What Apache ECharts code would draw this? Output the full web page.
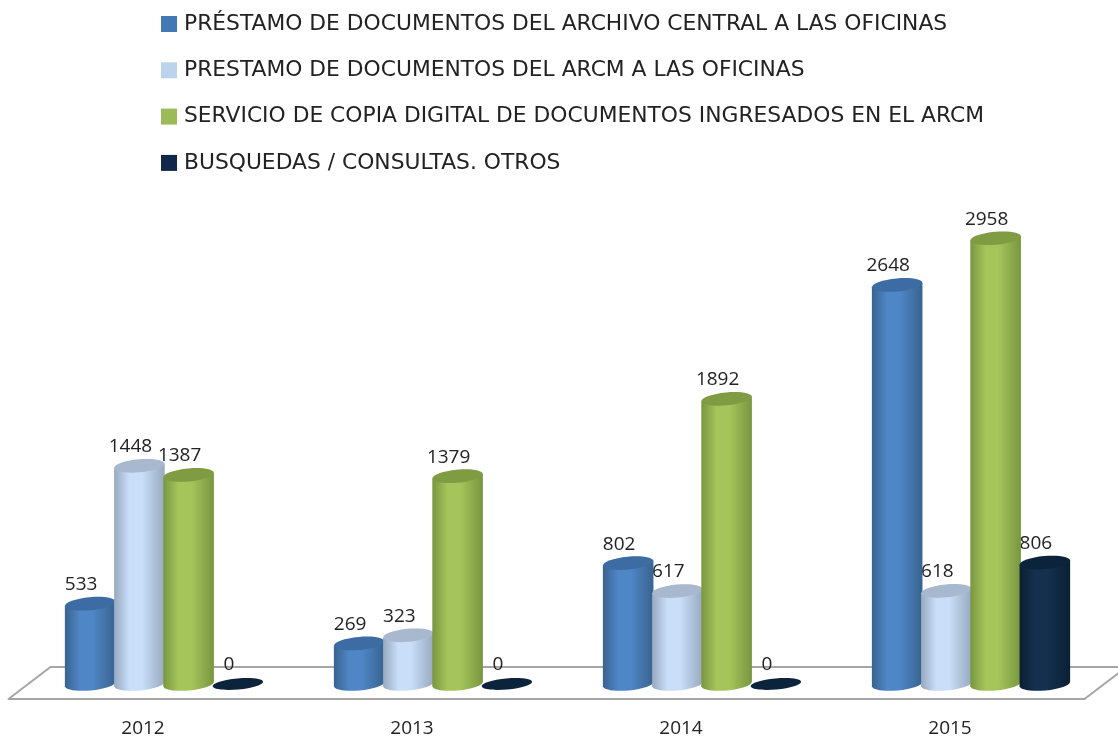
<!DOCTYPE html>
<html><head><meta charset="utf-8">
<style>html,body{margin:0;padding:0;background:#fff}#c{width:1118px;height:738px;filter:blur(0.4px)}</style>
<script src="https://cdn.jsdelivr.net/npm/echarts@6/dist/echarts.min.js"></script>
</head><body><div id="c"></div>
<script>
const years = ['2012','2013','2014','2015'];
const seriesNames = [
  'PRÉSTAMO DE DOCUMENTOS DEL ARCHIVO CENTRAL A LAS OFICINAS',
  'PRESTAMO DE DOCUMENTOS DEL ARCM A LAS OFICINAS',
  'SERVICIO DE COPIA DIGITAL DE DOCUMENTOS INGRESADOS EN EL ARCM',
  'BUSQUEDAS / CONSULTAS. OTROS'
];
const prestamoCentral = [533, 269, 802, 2648];
const prestamoArcm = [1448, 323, 617, 618];
const copiaDigital = [1387, 1379, 1892, 2958];
const busquedas = [0, 0, 0, 806];
const seriesValues = [prestamoCentral, prestamoArcm, copiaDigital, busquedas];
const legendColors = ['#4279b5', '#bcd3ee', '#9bbb59', '#10294a'];
const edgeColors = ['#38638f', '#98a9bf', '#799640', '#0b1f34'];
const midColors = ['#4f86c6', '#c9def9', '#a5c55b', '#14304e'];
const capColors = ['#3c6ca3', '#a8b9cf', '#7f9c43', '#0c233c'];

const FLOOR_DX = 42, FLOOR_DY = 32, BAR_SHIFT_X = 21, BAR_SHIFT_Y = -15;
const BAR_FRAC = 0.188, STEP_FRAC = 0.183, TILT = 0.09;

function cylinder(params, api) {
  const si = params.seriesIndex - 1;
  const cat = api.value(0), val = api.value(1);
  const p = api.coord([cat, val]), base = api.coord([cat, 0]);
  const band = api.size([1, 0])[0];
  const rx = band * BAR_FRAC / 2, ry = 6.5;
  const cx = p[0] + BAR_SHIFT_X + (si - 1.5) * band * STEP_FRAC;
  const topY = p[1] + BAR_SHIFT_Y, botY = base[1] + BAR_SHIFT_Y;
  const t = rx * Math.sin(TILT);
  const grad = new echarts.graphic.LinearGradient(0, 0, 1, 0, [
    {offset: 0, color: edgeColors[si]},
    {offset: 0.3, color: midColors[si]},
    {offset: 0.55, color: midColors[si]},
    {offset: 1, color: edgeColors[si]}
  ]);
  const children = [];
  const barZ = 10 + si * 2;
  if (val > 0) {
    children.push({type: 'ellipse', z2: barZ, x: cx, y: botY, rotation: TILT,
      shape: {cx: 0, cy: 0, rx: rx, ry: ry}, style: {fill: grad}});
    children.push({type: 'polygon', z2: barZ, shape: {points: [
      [cx - rx, topY + t], [cx + rx, topY - t], [cx + rx, botY - t], [cx - rx, botY + t]
    ]}, style: {fill: grad}});
  }
  children.push({type: 'ellipse', z2: barZ + 1, x: cx, y: topY, rotation: TILT,
    shape: {cx: 0, cy: 0, rx: rx, ry: val > 0 ? ry : 5.5}, style: {fill: capColors[si]}});
  children.push({type: 'text', z2: 1, x: cx - 9, y: topY - 19,
    style: {text: String(val), fill: '#222', font: '400 19px "Open Sans"', align: 'center', verticalAlign: 'middle'}});
  return {type: 'group', children: children};
}

function floor(params, api) {
  const cs = params.coordSys;
  const l = cs.x, r = cs.x + cs.width, b = cs.y + cs.height;
  return {type: 'polyline', z2: 0, shape: {points: [
    [l, b], [l + FLOOR_DX, b - FLOOR_DY], [r + FLOOR_DX, b - FLOOR_DY], [r, b]
  ]}, style: {fill: 'none', stroke: '#a6a6a6', lineWidth: 2}};
}

const chart = echarts.init(document.getElementById('c'), null, {renderer: 'canvas'});
chart.setOption({
  animation: false,
  backgroundColor: '#fff',
  legend: {
    data: seriesNames, orient: 'vertical', left: 161, top: 13, padding: 0,
    itemWidth: 16, itemHeight: 16, itemGap: 24.3, icon: 'rect',
    selectedMode: false,
    textStyle: {fontFamily: 'DejaVu Sans', fontSize: 21.8, color: '#222', padding: [0, 0, 0, 2]}
  },
  grid: {left: 8.5, width: 1076, top: 201.7, height: 498.3},
  xAxis: {
    type: 'category', data: years,
    axisLine: {lineStyle: {color: '#a6a6a6', width: 2}},
    axisTick: {show: false}, splitLine: {show: false},
    axisLabel: {fontFamily: 'Open Sans', fontSize: 19, color: '#222', margin: 20}
  },
  yAxis: {type: 'value', min: 0, max: 3300, show: false, splitLine: {show: false}},
  series: [
    {type: 'custom', name: 'floor', silent: true, data: [[0, 0]], renderItem: floor, encode: {x: 0, y: 1}}
  ].concat(seriesNames.map((name, i) => ({
    type: 'custom', name: name, renderItem: cylinder, clip: false,
    itemStyle: {color: legendColors[i]},
    encode: {x: 0, y: 1},
    data: seriesValues[i].map((v, k) => [k, v])
  })))
});
</script></body></html>
